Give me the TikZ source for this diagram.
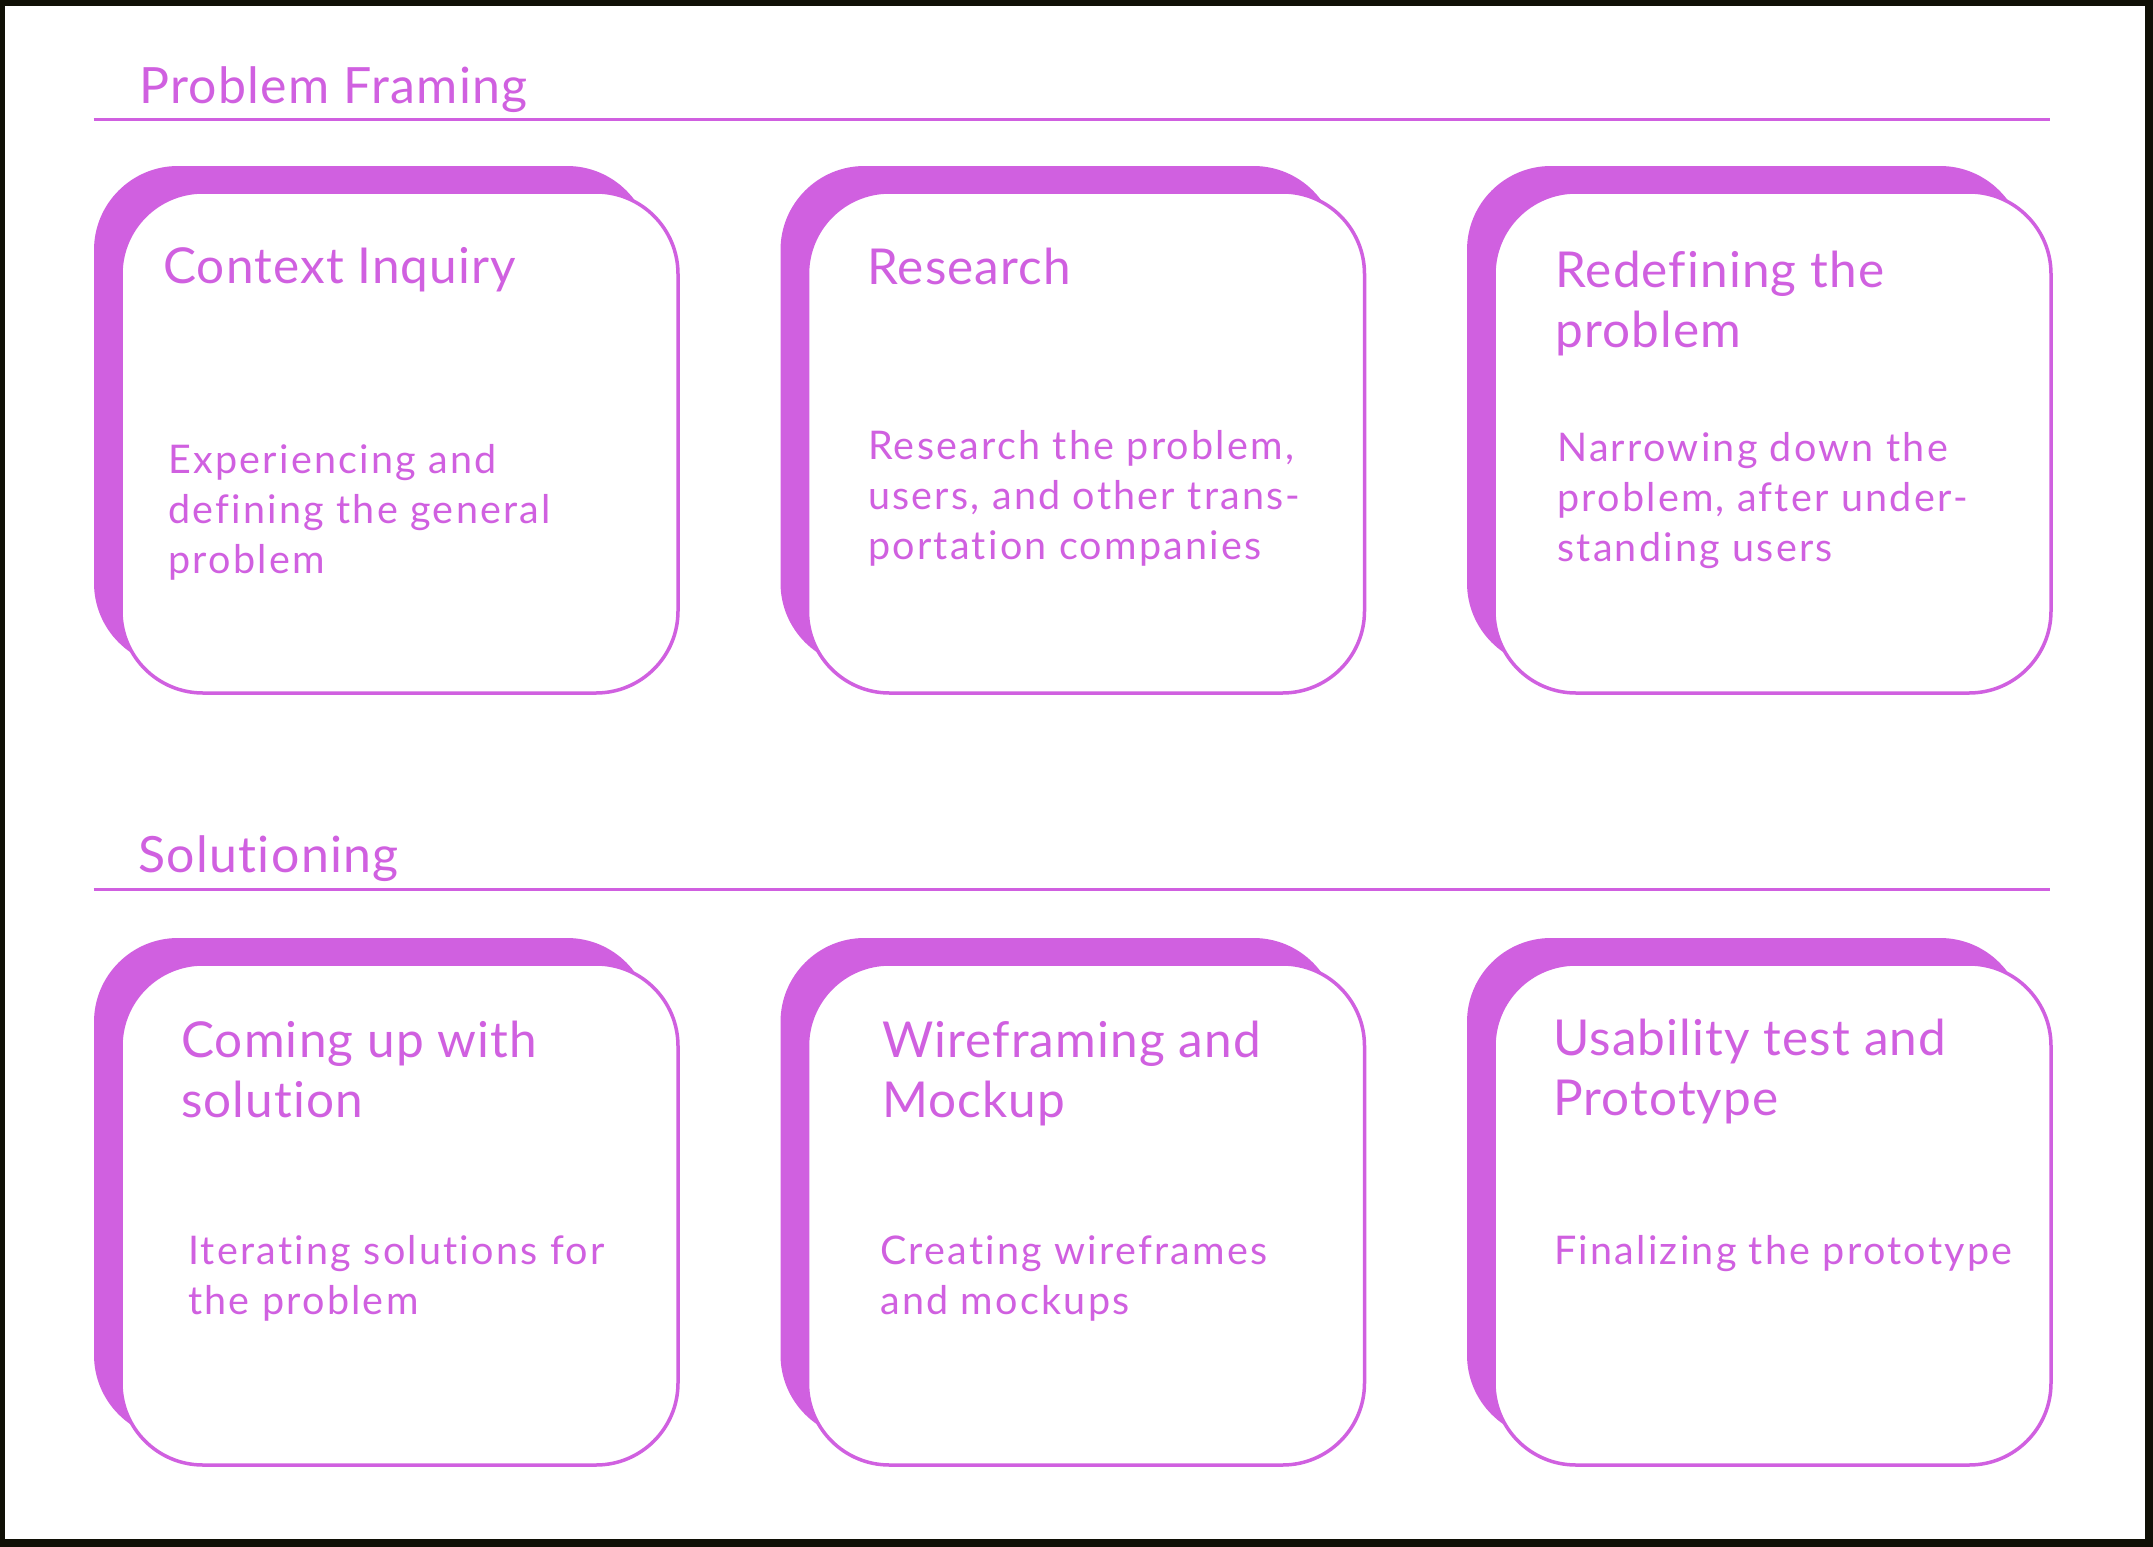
\documentclass[tikz,border=0pt]{standalone}
\usepackage{fontspec}
\setmainfont{Lato}[Ligatures=NoCommon]
\newfontfamily\headfont[LetterSpace=2.7,Ligatures=NoCommon]{Lato}
\newfontfamily\titlefont[LetterSpace=2.3,Ligatures=NoCommon]{Lato}
\newfontfamily\bodyfont[LetterSpace=5.7,Ligatures=NoCommon]{Lato}
\definecolor{pp}{RGB}{208,96,224}
\definecolor{framecol}{RGB}{16,16,6}
\begin{document}
\begin{tikzpicture}[x=1pt,y=-1pt,
  shadowbox/.style={fill=pp, draw=none, rounded corners=84pt, minimum width=557pt, minimum height=501pt, anchor=north west, inner sep=0pt, outer sep=0pt},
  cardbox/.style={fill=white, draw=pp, line width=3.5pt, rounded corners=82pt, minimum width=557pt, minimum height=501pt, anchor=north west, inner sep=0pt, outer sep=0pt},
  headtext/.style={text=pp, anchor=base west, inner sep=0pt, font=\headfont\fontsize{50}{60}\selectfont},
  titletext/.style={text=pp, anchor=base west, align=left, inner sep=0pt, font=\titlefont\fontsize{49.5}{60}\selectfont},
  bodytext/.style={text=pp, anchor=base west, align=left, inner sep=0pt, font=\bodyfont\fontsize{39.5}{50}\selectfont},
  rule/.style={draw=pp, line width=3.5pt}]
\useasboundingbox (0,0) rectangle (2153,1547);
\fill[framecol] (0,0) rectangle (2153,1547);
\fill[white] (5,6) rectangle (2145,1539);

% headings
\node[headtext] (h1) at (139,103.6) {Problem Framing};
\coordinate (l1a) at (93.5,119.6);
\coordinate (l1b) at (2050,119.6);
\draw[rule] (l1a) -- (l1b);
\node[headtext] (h2) at (138,872.3) {Solutioning};
\coordinate (l2a) at (93.5,889.5);
\coordinate (l2b) at (2050,889.5);
\draw[rule] (l2a) -- (l2b);

% cards row 1
\node[shadowbox] (s1) at (94,166) {};
\node[cardbox] (c1) at (121,192) {};
\node[shadowbox] (s2) at (780.5,166) {};
\node[cardbox] (c2) at (807.5,192) {};
\node[shadowbox] (s3) at (1467,166) {};
\node[cardbox] (c3) at (1494,192) {};
% cards row 2
\node[shadowbox] (s4) at (94,938) {};
\node[cardbox] (c4) at (121,964) {};
\node[shadowbox] (s5) at (780.5,938) {};
\node[cardbox] (c5) at (807.5,964) {};
\node[shadowbox] (s6) at (1467,938) {};
\node[cardbox] (c6) at (1494,964) {};

% texts (anchor = baseline of the last line)
\node[titletext] (t1) at (163,283.5) {Context Inquiry};
\node[bodytext] (b1) at (168,573.6) {Experiencing and\\defining the general\\problem};
\node[titletext] (t2) at (867,284.4) {Research};
\node[bodytext] (b2) at (868,559.3) {Research the problem,\\users, and other trans-\\portation companies};
\node[titletext] (t3) at (1555,347.7) {Redefining the\\problem};
\node[bodytext] (b3) at (1557,561.2) {Narrowing down the\\problem, after under-\\standing users};
\node[titletext] (t4) at (181,1117.9) {Coming up with\\solution};
\node[bodytext] (b4) at (188,1314.3) {Iterating solutions for\\the problem};
\node[titletext] (t5) at (882,1117.7) {Wireframing and\\Mockup};
\node[bodytext] (b5) at (880,1314.6) {Creating wireframes\\and mockups};
\node[titletext] (t6) at (1553,1115.4) {Usability test and\\Prototype};
\node[bodytext] (b6) at (1554,1264.3) {Finalizing the prototype};
\end{tikzpicture}
\end{document}
